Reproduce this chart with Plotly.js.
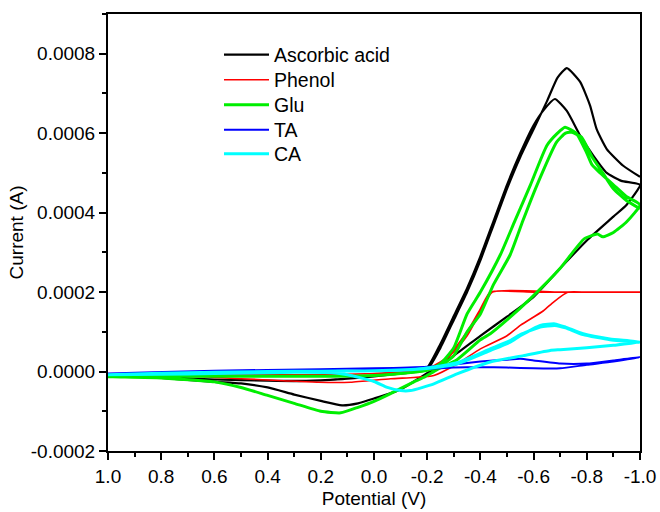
<!DOCTYPE html>
<html>
<head>
<meta charset="utf-8">
<script src="https://cdn.plot.ly/plotly-3.0.1.min.js"></script>
<style>
html,body{margin:0;padding:0;background:#fff;}
#chart{width:660px;height:512px;}
</style>
</head>
<body>
<div id="chart"></div>
<script>
// Ascorbic acid (two cycles)
const ascorbicV = [1.0,0.8,0.6,0.4,0.3,0.2,0.1,0.0,-0.1,-0.15,-0.2,-0.25,-0.3,-0.35,-0.4,-0.45,-0.5,-0.55,-0.6,-0.64,-0.68,-0.725,-0.775,-0.825,-0.875,-0.93,-1.0,
  -0.95,-0.9,-0.8,-0.7,-0.6,-0.5,-0.4,-0.3,-0.21,-0.1,0.0,0.06,0.12,0.2,0.3,0.4,0.5,0.6,0.8,1.0,
  0.8,0.6,0.4,0.2,0.0,-0.1,-0.2,-0.25,-0.3,-0.35,-0.4,-0.45,-0.5,-0.55,-0.6,-0.65,-0.69,-0.725,-0.775,-0.812,-0.837,-0.875,-0.937,-1.0];
const ascorbicI = [-0.00001,-0.000014,-0.00002,-0.000023,-0.000024,-0.000022,-0.000018,-0.000012,-0.000005,0.0,0.00001,0.00007,0.00014,0.00021,0.00029,0.00038,0.00047,0.00055,0.00062,0.00066,0.000686,0.000656,0.000594,0.000543,0.0005,0.00048,0.00047,
  0.00042,0.00039,0.00033,0.00026,0.000188,0.000138,0.00009,0.00004,0.0,-0.000045,-0.000068,-0.00008,-0.000085,-0.000074,-0.000058,-0.00004,-0.00003,-0.000026,-0.000016,-0.00001,
  -0.000014,-0.00002,-0.000023,-0.000022,-0.000012,-0.000005,0.000005,0.00006,0.00013,0.0002,0.00028,0.00037,0.00046,0.00054,0.00061,0.00068,0.00074,0.000764,0.000729,0.00067,0.00061,0.00056,0.000518,0.00049];

// Phenol (two cycles, clipped at 0.0002)
const phenolV = [1.0,0.6,0.2,0.0,-0.2,-0.225,-0.275,-0.35,-0.4,-0.437,-0.6,-0.8,-1.0,
  -0.8,-0.73,-0.675,-0.637,-0.55,-0.5,-0.4,-0.312,-0.225,-0.15,-0.062,0.088,0.21,0.34,0.5,0.7,1.0,
  0.6,0.2,0.0,-0.2,-0.25,-0.3,-0.35,-0.4,-0.445,-0.7,-1.0];
const phenolI = [-0.00001,-0.000008,-0.000008,-0.000005,0.000005,0.000015,0.000035,0.0001,0.000158,0.0002,0.0002,0.0002,0.0002,
  0.0002,0.0002,0.000175,0.000153,0.000116,0.00009,0.000057,0.000019,-0.00001,-0.000015,-0.000018,-0.000027,-0.000027,-0.000023,-0.000018,-0.000012,-0.00001,
  -0.000008,-0.000008,-0.000005,0.000003,0.000018,0.00005,0.00009,0.00015,0.0002,0.0002,0.0002];

// Glu (two cycles)
const gluV = [1.0,0.8,0.6,0.4,0.2,0.0,-0.1,-0.2,-0.25,-0.3,-0.35,-0.4,-0.475,-0.53,-0.587,-0.65,-0.69,-0.718,-0.76,-0.8,-0.82,-0.85,-0.9,-0.95,-1.0,
  -0.95,-0.9,-0.86,-0.84,-0.79,-0.7,-0.587,-0.5,-0.437,-0.4,-0.312,-0.237,-0.186,-0.15,-0.06,0.0,0.06,0.125,0.2,0.3,0.4,0.5,0.6,0.8,1.0,
  0.8,0.6,0.4,0.2,0.0,-0.1,-0.2,-0.25,-0.3,-0.35,-0.4,-0.45,-0.512,-0.56,-0.612,-0.687,-0.72,-0.743,-0.78,-0.82,-0.86,-0.9,-0.95,-1.0];
const gluI = [-0.000012,-0.000012,-0.000012,-0.000012,-0.000012,-0.00001,-0.000005,0.000003,0.00002,0.00006,0.000145,0.0002,0.000294,0.00038,0.000468,0.000569,0.0006,0.000615,0.0006,0.00055,0.00052,0.0005,0.00047,0.00044,0.00042,
  0.000377,0.00035,0.000339,0.000346,0.000334,0.00026,0.000183,0.00013,0.000095,0.00008,0.00003,0.000005,-0.000015,-0.000026,-0.000056,-0.000075,-0.00009,-0.000104,-0.0001,-0.00008,-0.00006,-0.00004,-0.000026,-0.000016,-0.000013,
  -0.000012,-0.000012,-0.000012,-0.000012,-0.00001,-0.000005,0.000003,0.000015,0.00004,0.0001,0.000145,0.00022,0.000294,0.00038,0.000468,0.000578,0.0006,0.000602,0.00059,0.00054,0.0005,0.00046,0.00043,0.00041];

// TA
const taV = [1.0,0.6,0.2,0.0,-0.2,-0.3,-0.4,-0.5,-0.55,-0.6,-0.7,-0.8,-0.9,-1.0,
  -0.9,-0.8,-0.7,-0.6,-0.5,-0.4,-0.3,-0.2,0.0,0.2,0.6,1.0];
const taI = [-0.000005,0.000002,0.000006,0.000008,0.000012,0.000018,0.000025,0.00003,0.000032,0.000028,0.00002,0.00002,0.000028,0.000036,
  0.000025,0.000017,0.000008,0.000008,0.00001,0.000011,0.00001,0.000007,0.000003,0.0,-0.000004,-0.000005];

// CA (two cycles)
const caV = [1.0,0.8,0.6,0.4,0.2,0.0,-0.062,-0.186,-0.312,-0.437,-0.512,-0.55,-0.625,-0.68,-0.72,-0.786,-0.887,-1.0,
  -0.9,-0.8,-0.7,-0.662,-0.562,-0.437,-0.312,-0.225,-0.137,-0.1,-0.05,0.0,0.1,0.16,0.3,0.6,0.8,1.0,
  0.6,0.2,0.0,-0.186,-0.312,-0.437,-0.512,-0.55,-0.625,-0.68,-0.72,-0.786,-0.887,-1.0];
const caI = [-0.000008,-0.000004,-0.000002,0.0,0.000001,0.000002,0.0000025,0.000007,0.000019,0.000053,0.000074,0.00009,0.000116,0.00012,0.000112,0.000095,0.000082,0.000074,
  0.000066,0.00006,0.000055,0.000053,0.00004,0.000024,-0.000006,-0.000031,-0.000048,-0.000048,-0.00004,-0.000025,-0.000008,-0.000003,-0.000002,-0.000005,-0.000007,-0.000008,
  -0.000002,0.000001,0.000002,0.000008,0.000022,0.000057,0.000078,0.000093,0.000112,0.000116,0.00011,0.000093,0.00008,0.000074];

const seriesNames = ['Ascorbic acid','Phenol','Glu','TA','CA'];
const seriesColors = ['#000000','#ff0000','#00ee00','#0000ff','#00ffff'];
const seriesWidths = [2.2,1.6,3,2,3];
const seriesV = [ascorbicV, phenolV, gluV, taV, caV];
const seriesI = [ascorbicI, phenolI, gluI, taI, caI];
const legendIds = ['legend','legend2','legend3','legend4','legend5'];

const xTickVals = [1.0,0.8,0.6,0.4,0.2,0.0,-0.2,-0.4,-0.6,-0.8,-1.0];
const xTickText = ['1.0','0.8','0.6','0.4','0.2','0.0','-0.2','-0.4','-0.6','-0.8','-1.0'];
const yTickVals = [-0.0002,0.0,0.0002,0.0004,0.0006,0.0008];
const yTickText = ['-0.0002','0.0000','0.0002','0.0004','0.0006','0.0008'];

const traces = seriesNames.map((n,i)=>({
  x: seriesV[i], y: seriesI[i], name: n, type:'scatter', mode:'lines', legend: legendIds[i],
  line:{color:seriesColors[i], width:seriesWidths[i], shape:'spline', smoothing:0.5}
}));

const font = {family:'"Liberation Sans", Arial, Helvetica, sans-serif', color:'#000'};
const legendRows = [55, 80, 105, 130, 154]; // pixel rows of legend entries
const layout = {
  width:660, height:512,
  margin:{l:108, r:20, t:14, b:61},
  paper_bgcolor:'#fff', plot_bgcolor:'#fff',
  font: Object.assign({size:19}, font),
  showlegend:true,
  xaxis:{range:[1.0,-1.0], showgrid:false, zeroline:false, showline:true, linecolor:'#000', linewidth:2, mirror:true,
    ticks:'outside', ticklen:7, tickwidth:2, tickcolor:'#000',
    tickvals:xTickVals, ticktext:xTickText, tickfont:Object.assign({size:19}, font),
    minor:{ticks:'outside', ticklen:4, tickwidth:2, tickcolor:'#000', dtick:0.1, showgrid:false},
    title:{text:'Potential (V)', font:Object.assign({size:19}, font), standoff:6}},
  yaxis:{range:[-0.0002,0.0009], showgrid:false, zeroline:false, showline:true, linecolor:'#000', linewidth:2, mirror:true,
    ticks:'outside', ticklen:7, tickwidth:2, tickcolor:'#000',
    tickvals:yTickVals, ticktext:yTickText, tickfont:Object.assign({size:19}, font),
    minor:{ticks:'outside', ticklen:4, tickwidth:2, tickcolor:'#000', dtick:0.0001, showgrid:false},
    title:{text:'Current (A)', font:Object.assign({size:19}, font), standoff:2}}
};
legendIds.forEach((id,i)=>{
  layout[id] = {x:(219-108)/532, y:(451-legendRows[i])/437, xanchor:'left', yanchor:'middle',
    bgcolor:'rgba(0,0,0,0)', borderwidth:0, itemwidth:45,
    font:Object.assign({size:19.5}, font)};
});
Plotly.newPlot('chart', traces, layout, {staticPlot:true, displayModeBar:false});
</script>
</body>
</html>
